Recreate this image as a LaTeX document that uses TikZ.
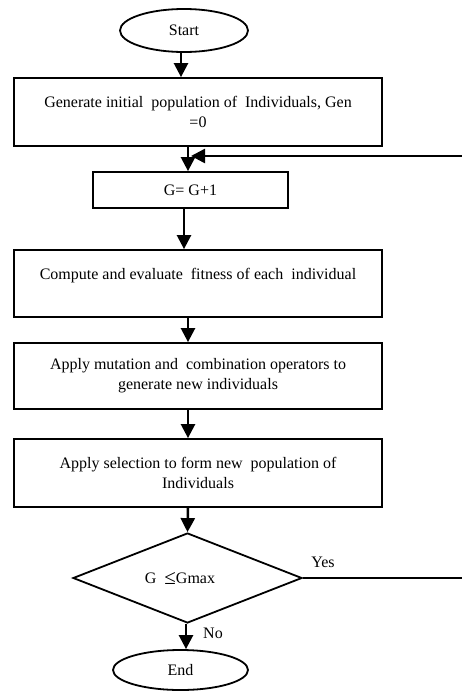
\documentclass[tikz,border=0pt]{standalone}
\usepackage{fontspec}
\setmainfont{Liberation Serif}
\usetikzlibrary{shapes.geometric,arrows.meta}
\begin{document}
\begin{tikzpicture}[x=1pt,y=-1pt,
  every node/.style={font=\fontsize{16}{20}\selectfont},
  box/.style={draw,line width=1.8pt,rectangle,inner sep=0pt,align=center},
  term/.style={draw,line width=1.8pt,ellipse,inner sep=0pt},
  dia/.style={draw,line width=1.8pt,diamond,inner sep=0pt},
  plain/.style={inner sep=0pt},
  arr/.style={line width=2.5pt,-{Triangle[width=14pt,length=14pt]}},
  link/.style={line width=2pt}]
\useasboundingbox (0,0) rectangle (462,691);
\node[term,minimum width=128pt,minimum height=43pt] (start) at (184,30.5) {Start};
\node[box,minimum width=368pt,minimum height=68pt] (b1) at (198,112)
  {Generate initial\ \ population of\ \ Individuals, Gen\\=0};
\node[box,minimum width=195pt,minimum height=36pt] (b2) at (190.5,190) {G= G+1};
\node[box,minimum width=368pt,minimum height=67pt] (b3) at (198,283.5)
  {Compute and evaluate\ \ fitness of each\ \ individual\\\mbox{}};
\node[box,minimum width=368pt,minimum height=66pt] (b4) at (198,376)
  {Apply mutation and\ \ combination operators to\\generate new individuals};
\node[box,minimum width=368pt,minimum height=68pt] (b5) at (198,473)
  {Apply selection to form new\ \ population of\\Individuals};
\node[dia,minimum width=229pt,minimum height=90pt] (dec) at (187.5,578) {};
\node[plain] (dectext) at (180,578) {G\ \ {\fontsize{21}{20}\selectfont\raisebox{-1pt}{≤}}Gmax};
\node[term,minimum width=135pt,minimum height=40pt] (end) at (180.5,670) {End};
\node[plain] (yes) at (323,562) {Yes};
\node[plain] (no) at (213,633) {No};
\coordinate (rbot) at (465,578);
\coordinate (rtop) at (465,156);
\coordinate (loopin) at (191,156);
% connectors
\draw[arr] ([xshift=-3pt]start.south) -- ([xshift=-3pt]start.south |- b1.north);
\draw[arr] ([xshift=-2.5pt]b1.south -| b2.north) -- ([xshift=-2.5pt]b2.north);
\draw[arr] ([xshift=-6.5pt]b2.south) -- ([xshift=-6.5pt]b2.south |- b3.north);
\draw[arr] ([xshift=-10pt]b3.south) -- ([xshift=-10pt]b4.north);
\draw[arr] ([xshift=-10pt]b4.south) -- ([xshift=-10pt]b5.north);
\draw[arr] ([xshift=-10pt]b5.south) -- (dec.north);
\draw[arr] ([xshift=-1.5pt]dec.south) -- ([xshift=-1.5pt]dec.south |- end.north);
\draw[link] (dec.east) -- (rbot) -- (rtop);
\draw[arr] (rtop) -- (loopin);
\end{tikzpicture}
\end{document}
